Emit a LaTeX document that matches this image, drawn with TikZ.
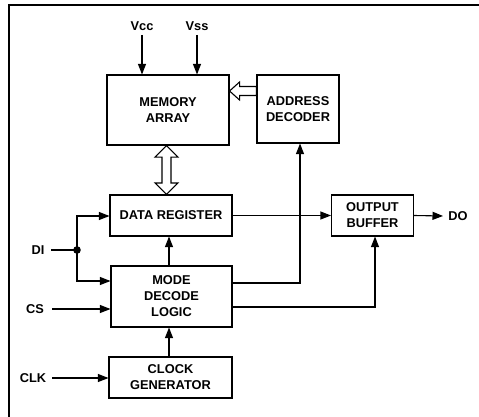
\documentclass[tikz,border=0pt]{standalone}
\usepackage{fontspec}
\setmainfont{Liberation Sans}
\usetikzlibrary{arrows.meta,calc}
\begin{document}
\begin{tikzpicture}[x=1pt,y=-1pt,
  every node/.style={font=\bfseries\fontsize{12.8}{16}\selectfont},
  blk/.style={draw,line width=1.1pt,align=center,inner sep=0pt},
  lbl/.style={inner sep=0pt},
  conn/.style={line width=1.1pt,-{Triangle[length=10.5pt,width=8pt]}},
  wire/.style={line width=1.1pt},
  hollow/.style={draw,line width=1.1pt,fill=white,line join=miter}]
\useasboundingbox (0,0) rectangle (479,417);
% frame
\draw[line width=1.2pt] (9,417) -- (9,5) -- (479,5);
% blocks
\node[blk,minimum width=122pt,minimum height=70pt] (mem) at (168,110) {MEMORY\\ARRAY};
\node[blk,minimum width=82pt,minimum height=68pt] (addr) at (298,109) {ADDRESS\\DECODER};
\node[blk,minimum width=122pt,minimum height=41pt] (dreg) at (171,215.5) {DATA REGISTER};
\node[blk,minimum width=82pt,minimum height=41pt] (obuf) at (372.5,215.5) {OUTPUT\\BUFFER};
\node[blk,minimum width=121pt,minimum height=61pt] (mode) at (171.5,296.5) {MODE\\DECODE\\LOGIC};
\node[blk,minimum width=123pt,minimum height=41pt] (clk) at (170.5,377.5) {CLOCK\\GENERATOR};
% labels
\node[lbl] (vcc) at (142,26) {Vcc};
\node[lbl] (vss) at (197,26) {Vss};
\node[lbl] (di) at (38,250) {DI};
\node[lbl] (cs) at (35,309) {CS};
\node[lbl] (clkl) at (33,378) {CLK};
\node[lbl] (do) at (458,216) {DO};
% free ends
\coordinate (vccs) at (142,35);
\coordinate (vsss) at (197,35);
\coordinate (dis) at (51,250);
\coordinate (dot) at (77,250);
\coordinate (css) at (52,309);
\coordinate (clks) at (52,378);
\coordinate (doend) at (443,216);
% supply arrows
\draw[conn] (vccs) -- (vccs |- mem.north);
\draw[conn] (vsss) -- (vsss |- mem.north);
% hollow arrow address decoder -> memory array
\coordinate (ha) at (mem.east |- 0,91);
\draw[hollow] (ha) -- ++(10,-9) -- ++(0,4.5) -- (addr.west |- 0,86.5) -- (addr.west |- 0,95.5) -- ($(ha)+(10,4.5)$) -- ++(0,4.5) -- cycle;
% double hollow arrow memory <-> data register
\coordinate (dt) at (166.5,0);
\draw[hollow] (dt |- mem.south) -- ++(11.5,11.5) -- ++(-7,0) -- ($(dt |- dreg.north)+(4.5,-11.5)$) -- ++(7,0) -- (dt |- dreg.north) -- ++(-11.5,-11.5) -- ++(7,0) -- ($(dt |- mem.south)+(-4.5,11.5)$) -- ++(-7,0) -- cycle;
% data paths
\draw[conn] (dreg.east) -- (obuf.west);
\draw[conn] (obuf.east) -- (doend);
\draw[wire] (dis) -- (dot);
\fill (dot) circle (3.8pt);
\draw[conn] (dot) |- (dreg.west |- 0,216);
\draw[conn] (dot) |- (mode.west |- 0,281);
\draw[conn] (css) -- (css -| mode.west);
\draw[conn] (clks) -- (clks -| clk.west);
\draw[conn] (clk.north -| 169,0) -- (mode.south -| 169,0);
\draw[conn] (mode.north -| 169,0) -- (dreg.south -| 169,0);
\draw[conn] (mode.east |- 0,283) -| (addr.south -| 300,0);
\draw[conn] (mode.east |- 0,307) -| (obuf.south -| 375,0);
\end{tikzpicture}
\end{document}
